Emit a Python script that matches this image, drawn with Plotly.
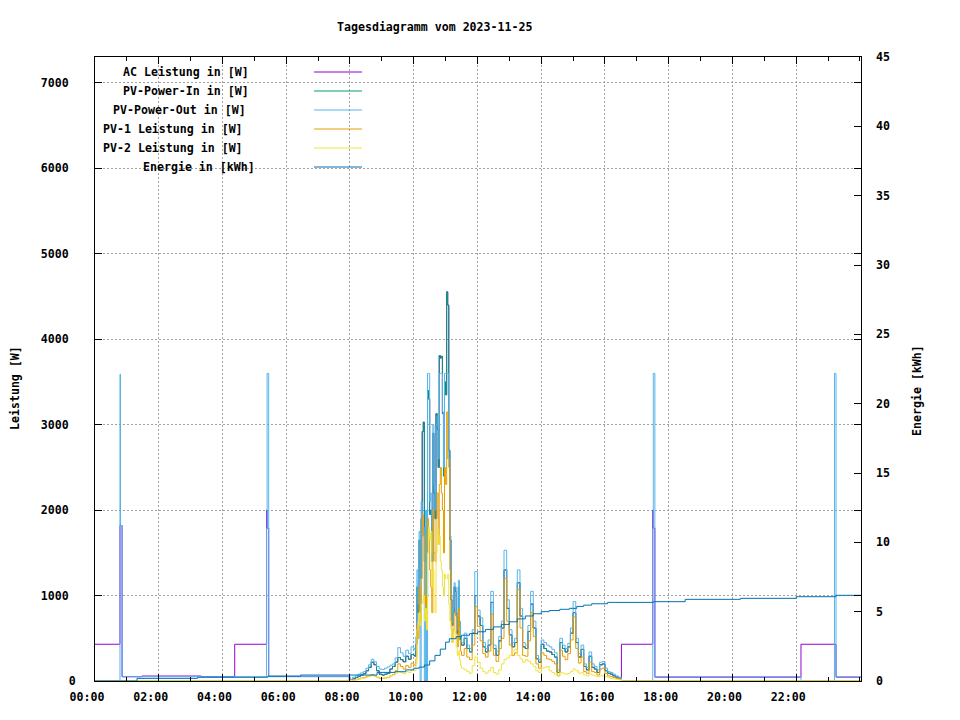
import plotly.graph_objects as go
import pandas as pd

DAY = pd.Timestamp("2023-11-25")

# ---------------- data ----------------
TIME = [
    "00:00", "00:47", "00:48", "00:51", "01:28", "03:20", "04:23", "05:23", "05:24", "05:27", "07:58",
    "08:00", "08:05", "08:10", "08:15", "08:20", "08:25", "08:30", "08:35", "08:40", "08:45", "08:50", "08:55",
    "09:00", "09:05", "09:10", "09:15", "09:20", "09:25", "09:30", "09:35", "09:40", "09:45", "09:50", "09:55",
    "10:00", "10:02", "10:04", "10:06", "10:08", "10:10", "10:12", "10:14", "10:16", "10:18", "10:20", "10:22",
    "10:24", "10:26", "10:28", "10:30", "10:32", "10:34", "10:36", "10:38", "10:40", "10:42", "10:44", "10:46",
    "10:48", "10:50", "10:52", "10:54", "10:56", "10:58", "11:00", "11:02", "11:04", "11:06", "11:08", "11:10",
    "11:12", "11:14", "11:16", "11:18", "11:20", "11:22", "11:24", "11:26", "11:28",
    "11:30", "11:35", "11:40", "11:45", "11:50", "11:55", "12:00", "12:05", "12:10", "12:15", "12:20", "12:25",
    "12:30", "12:35", "12:40", "12:45", "12:50", "12:55", "13:00", "13:05", "13:10", "13:15", "13:20", "13:25",
    "13:30", "13:35", "13:40", "13:45", "13:50", "13:55", "14:00", "14:05", "14:10", "14:15", "14:20", "14:25",
    "14:30", "14:35", "14:40", "14:45", "14:50", "14:55", "15:00", "15:05", "15:10", "15:15", "15:20", "15:25",
    "15:30", "15:35", "15:40", "15:45", "15:50", "15:55", "16:00", "16:05", "16:10", "16:15", "16:20", "16:25",
    "16:31", "17:30", "17:31", "17:34", "22:09", "23:12", "23:15", "24:02",
]

AC_W = [
    430, 1820, 1820, 50, 58, 50, 430, 2000, 1790, 55, 50,
    10, 25, 40, 55, 70, 85, 120, 160, 220, 190, 120, 80,
    70, 80, 90, 140, 170, 220, 275, 250, 225, 290, 255, 310,
    300, 290, 430, 1100, 800, 1650, 1200, 1900, 2920, 3030, 1400, 1800,
    1000, 3400, 3300, 1950, 2000, 1400, 2900, 2200, 1900, 3130, 2950, 2500,
    3810, 3780, 3800, 3130, 2400, 3500, 3350, 4555, 4400, 2700, 1650, 950,
    650, 800, 1100, 1050, 760, 560, 1100, 650, 480,
    420, 500, 380, 340, 560, 1000, 760, 650, 400, 340, 420, 920,
    380, 300, 470, 620, 1300, 850, 540, 400, 450, 1150, 760, 400,
    380, 580, 900, 620, 260, 220, 430, 380, 350, 340, 310, 280,
    100, 450, 380, 340, 400, 560, 800, 450, 280, 370, 170, 130,
    290, 160, 140, 100, 190, 200, 120, 90, 80, 60, 45, 35,
    430, 2000, 1790, 45, 430, 430, 45, 45,
]

PV_IN_W = [
    0, 0, 0, 0, 0, 0, 0, 0, 0, 0, 0,
    10, 25, 40, 55, 70, 85, 120, 160, 220, 190, 120, 80,
    70, 80, 90, 140, 170, 220, 275, 250, 225, 290, 255, 310,
    300, 290, 430, 1100, 800, 1650, 1200, 1900, 2920, 3030, 1400, 1800,
    1000, 3400, 3300, 1950, 2000, 1400, 2900, 2200, 1900, 3130, 2950, 2500,
    3810, 3780, 3800, 3130, 2400, 3500, 3350, 4555, 4400, 2700, 1650, 950,
    650, 800, 1100, 1050, 760, 560, 1100, 650, 480,
    420, 500, 380, 340, 560, 1000, 760, 650, 400, 340, 420, 920,
    380, 300, 470, 620, 1300, 850, 540, 400, 450, 1150, 760, 400,
    380, 580, 900, 620, 260, 220, 430, 380, 350, 340, 310, 280,
    100, 450, 380, 340, 400, 560, 800, 450, 280, 370, 170, 130,
    290, 160, 140, 100, 190, 200, 120, 90, 80, 60, 45, 35,
    0, 0, 0, 0, 0, 0, 0, 0,
]

PV_OUT_W = [
    0, 3590, 1820, 50, 50, 50, 50, 1790, 3600, 50, 0,
    20, 45, 60, 80, 95, 110, 150, 190, 255, 225, 170, 140,
    135, 150, 165, 185, 200, 270, 390, 330, 290, 360, 320, 400,
    380, 360, 520, 1300, 900, 1750, 0, 2100, 1700, 1800, 0, 2000,
    0, 3600, 3600, 2100, 2200, 1500, 3000, 2300, 2000, 3000, 3100, 2600,
    3600, 3600, 3600, 3150, 2500, 3600, 3600, 3600, 3600, 2600, 1700, 1000,
    700, 850, 1150, 1100, 800, 600, 1180, 700, 520,
    450, 560, 420, 380, 600, 1280, 830, 740, 450, 380, 480, 1050,
    420, 350, 520, 700, 1530, 950, 600, 450, 500, 1300, 850, 450,
    420, 650, 1050, 700, 300, 250, 480, 450, 420, 400, 370, 330,
    130, 500, 420, 380, 440, 620, 930, 500, 320, 420, 200, 160,
    340, 200, 170, 130, 220, 230, 150, 110, 100, 80, 60, 45,
    0, 1790, 3600, 50, 0, 3600, 50, 50,
]

PV1_W = [
    0, 0, 0, 0, 0, 0, 0, 0, 0, 0, 0,
    5, 10, 15, 25, 35, 40, 55, 60, 75, 60, 45, 30,
    30, 35, 40, 60, 75, 120, 200, 170, 140, 180, 160, 210,
    190, 180, 260, 650, 500, 1100, 700, 1200, 1950, 1700, 900, 1000,
    600, 1900, 1700, 1300, 1100, 800, 2000, 1500, 1400, 1900, 2200, 1600,
    2300, 2500, 2200, 2000, 1500, 2500, 2300, 3150, 2600, 2500, 1300, 700,
    450, 600, 800, 780, 550, 400, 850, 480, 350,
    300, 380, 280, 250, 420, 870, 640, 470, 320, 280, 350, 780,
    300, 230, 380, 500, 1200, 700, 420, 300, 330, 1070, 620, 300,
    290, 470, 800, 520, 200, 150, 330, 300, 260, 250, 230, 200,
    60, 360, 290, 250, 320, 480, 750, 380, 210, 280, 110, 90,
    220, 110, 100, 70, 140, 150, 90, 60, 50, 40, 30, 20,
    0, 0, 0, 0, 0, 0, 0, 0,
]

PV2_W = [
    0, 0, 0, 0, 0, 0, 0, 0, 0, 0, 0,
    5, 10, 15, 20, 30, 35, 45, 55, 65, 55, 40, 35,
    35, 40, 45, 60, 70, 90, 110, 100, 85, 110, 100, 130,
    120, 120, 200, 600, 700, 800, 650, 900, 950, 1000, 700, 850,
    600, 1500, 1800, 1650, 1750, 1100, 1300, 1000, 800, 1500, 1800, 1600,
    1700, 1400, 1300, 1100, 1000, 1250, 1200, 1200, 1250, 900, 700, 600,
    450, 550, 600, 500, 400, 300, 350, 250, 180,
    150, 130, 110, 90, 180, 280, 220, 150, 110, 90, 120, 160,
    100, 80, 130, 200, 250, 270, 300, 350, 370, 300, 260, 220,
    250, 230, 200, 170, 120, 100, 150, 160, 170, 120, 100, 80,
    60, 100, 90, 80, 90, 110, 140, 120, 90, 100, 70, 60,
    80, 70, 60, 50, 60, 60, 50, 40, 30, 25, 20, 15,
    0, 0, 0, 0, 0, 0, 0, 0,
]

E_TIME = [
    "00:00", "01:19", "03:13", "05:25", "06:27", "08:51", "09:25", "09:45", "10:00", "10:10",
    "10:20", "10:30", "10:40", "10:50", "11:00", "11:07", "11:20", "11:30", "11:45", "12:00",
    "12:15", "12:30", "12:45", "13:00", "13:15", "13:30", "13:45", "14:00", "14:15", "14:35",
    "14:53", "15:07", "15:20", "15:35", "16:05", "17:31", "18:31", "20:15", "22:00", "23:15", "24:02",
]
E_KWH = [
    0.0, 0.19, 0.27, 0.35, 0.43, 0.62, 0.67, 0.80, 0.92, 1.00,
    1.15, 1.45, 1.85, 2.30, 2.80, 3.05, 3.20, 3.30, 3.42, 3.55,
    3.72, 3.90, 4.08, 4.27, 4.48, 4.69, 4.85, 5.00, 5.08, 5.17,
    5.24, 5.38, 5.47, 5.57, 5.67, 5.72, 5.89, 5.96, 6.08, 6.18, 6.18,
]

X_TICKS = ["00:00", "02:00", "04:00", "06:00", "08:00", "10:00", "12:00",
           "14:00", "16:00", "18:00", "20:00", "22:00"]
Y_TICKS = [0, 1000, 2000, 3000, 4000, 5000, 6000, 7000]
Y2_TICKS = [0, 5, 10, 15, 20, 25, 30, 35, 40, 45]

NAMES = ["AC Leistung in [W]", "PV-Power-In in [W]", "PV-Power-Out in [W]",
         "PV-1 Leistung in [W]", "PV-2 Leistung in [W]", "Energie in [kWh]"]
COLORS = ["#9400d3", "#009e73", "#56b4e9", "#e69f00", "#f0e442", "#0072b2"]

# ---------------- helpers ----------------
def ts(s):
    h, m = s.split(":")
    return DAY + pd.Timedelta(minutes=int(h) * 60 + int(m))

T = [ts(s) for s in TIME]
TE = [ts(s) for s in E_TIME]

FONT = "DejaVu Sans Mono"
FS = 11.6
# page body has an 8px margin, so the figure is drawn 8px smaller and shifted
OFF = 8
W, H = 960 - OFF, 720 - OFF
L, R, TOP, BOT = 95, 861, 57, 681          # plot area in window pixels
def px(x):
    return (x - L) / (R - L)
def py(y):
    return (BOT - y) / (BOT - TOP)

fig = go.Figure()
for vals, name, col in zip([AC_W, PV_IN_W, PV_OUT_W, PV1_W, PV2_W], NAMES[:5], COLORS[:5]):
    fig.add_trace(go.Scatter(x=T, y=vals, name=name, mode="lines",
                             line=dict(color=col, width=1, shape="hv"), showlegend=False))
fig.add_trace(go.Scatter(x=TE, y=E_KWH, name=NAMES[5], mode="lines", yaxis="y2",
                         line=dict(color=COLORS[5], width=1, shape="hv"), showlegend=False))

tickfont = dict(family=FONT, size=FS, color="black", weight="bold")
# tick labels: non-zero values are padded to sit left like in the reference
Y_TEXT = [str(v) if v == 0 else str(v) + "\u00a0" for v in Y_TICKS]

fig.update_layout(
    width=W, height=H,
    margin=dict(l=L - OFF, r=W - (R - OFF), t=TOP - OFF, b=H - (BOT - OFF), autoexpand=False),
    paper_bgcolor="white", plot_bgcolor="white",
    showlegend=False,
    xaxis=dict(
        type="date",
        range=[ts("00:00"), ts("24:02")],
        tickvals=[ts(s) for s in X_TICKS], ticktext=X_TICKS,
        ticks="inside", ticklen=7, tickcolor="black", tickwidth=1,
        minor=dict(dtick=3600000, ticks="inside", ticklen=4, tickcolor="black", showgrid=False),
        showline=True, linecolor="black", linewidth=1, mirror="ticks",
        showgrid=True, gridcolor="#a0a0a0", griddash="2px,2px", gridwidth=1,
        tickfont=tickfont, ticklabelshift=-8, ticklabelstandoff=5,
        zeroline=False,
    ),
    yaxis=dict(
        range=[0, 7304], tickvals=Y_TICKS, ticktext=Y_TEXT,
        ticks="inside", ticklen=7, tickcolor="black",
        showline=True, linecolor="black", linewidth=1, mirror="ticks",
        showgrid=True, gridcolor="#a0a0a0", griddash="2px,2px", gridwidth=1,
        tickfont=tickfont, ticklabelstandoff=16, zeroline=False,
    ),
    yaxis2=dict(
        range=[0, 45], tickvals=Y2_TICKS, ticktext=[str(v) for v in Y2_TICKS],
        overlaying="y", side="right",
        ticks="inside", ticklen=7, tickcolor="black",
        showline=False, showgrid=False, zeroline=False,
        tickfont=tickfont, ticklabelstandoff=14,
    ),
)

shapes = [dict(type="rect", xref="paper", yref="paper", x0=0, x1=px(372), y0=py(178), y1=1,
               fillcolor="white", line=dict(width=0), layer="between")]
annotations = []
row_y = [72, 91, 110, 129, 148, 167]
text_x = [121, 121, 111, 101, 101, 141]
for name, col, yy, xx in zip(NAMES, COLORS, row_y, text_x):
    shapes.append(dict(type="line", xref="paper", yref="paper", x0=px(314), x1=px(362),
                       y0=py(yy), y1=py(yy), line=dict(color=col, width=1), layer="above"))
    annotations.append(dict(text=name, xref="paper", yref="paper", x=px(xx), y=py(yy),
                            xanchor="left", yanchor="middle", showarrow=False,
                            font=tickfont))
annotations.append(dict(text="Tagesdiagramm vom 2023-11-25", xref="paper", yref="paper",
                        x=px(434), y=py(27), xanchor="center", yanchor="middle",
                        showarrow=False, font=tickfont))
annotations.append(dict(text="Leistung [W]", xref="paper", yref="paper", x=px(15), y=py(388),
                        xanchor="center", yanchor="middle", textangle=-90, showarrow=False,
                        font=tickfont))
annotations.append(dict(text="Energie [kWh]", xref="paper", yref="paper", x=px(917), y=py(390),
                        xanchor="center", yanchor="middle", textangle=-90, showarrow=False,
                        font=tickfont))
fig.update_layout(shapes=shapes, annotations=annotations)

fig.write_html("out.html")
